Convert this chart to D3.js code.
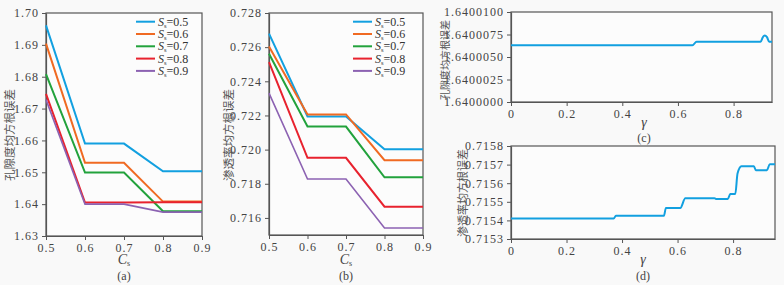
<!DOCTYPE html>
<html>
<head>
<meta charset="utf-8">
<script src="https://cdn.jsdelivr.net/npm/d3@7"></script>
<style>
  body { margin: 0; background: #f9f9f9; }
  svg { display: block; }
</style>
</head>
<body>
<div id="chart"></div>
<script>
// panel (a)/(b) x values
const cs = [0.5, 0.6, 0.7, 0.8, 0.9];
const ssLabels = ["0.5", "0.6", "0.7", "0.8", "0.9"];
const colors = ["#12a0e0", "#f06a22", "#22a23c", "#e8222e", "#8c62b2"];

// porosity RMSE vs Cs, one row per Ss
const poroA = [
  [1.6961, 1.6590, 1.6590, 1.6503, 1.6503],
  [1.6904, 1.6530, 1.6530, 1.6408, 1.6408],
  [1.6808, 1.6499, 1.6499, 1.6378, 1.6378],
  [1.6746, 1.6405, 1.6405, 1.6406, 1.6406],
  [1.6728, 1.6400, 1.6400, 1.6375, 1.6375]
];
// permeability RMSE vs Cs
const permB = [
  [0.72679, 0.72194, 0.72194, 0.72002, 0.72002],
  [0.72604, 0.72206, 0.72206, 0.71938, 0.71938],
  [0.72561, 0.72135, 0.72135, 0.71838, 0.71838],
  [0.72513, 0.71952, 0.71952, 0.71666, 0.71666],
  [0.72331, 0.71828, 0.71828, 0.71541, 0.71541]
];

// porosity RMSE vs gamma
const gammaC = [0, 0.652, 0.667, 0.897, 0.905, 0.912, 0.920, 0.928, 0.938];
const poroC = [1.6400063, 1.6400063, 1.6400067, 1.6400067, 1.6400072, 1.6400074, 1.6400072, 1.6400067, 1.6400067];

// permeability RMSE vs gamma
const gammaD = [0, 0.370, 0.378, 0.551, 0.558, 0.610, 0.628, 0.733, 0.740, 0.781, 0.790, 0.808, 0.816, 0.830, 0.875, 0.882, 0.922, 0.932, 0.951];
const permD = [0.71541, 0.71541, 0.715425, 0.715425, 0.715467, 0.715467, 0.715519, 0.715519, 0.715515, 0.715515, 0.715542, 0.715542, 0.715652, 0.715691, 0.715691, 0.71567, 0.71567, 0.715702, 0.715702];

const SERIF = "'Liberation Serif', 'DejaVu Serif', serif";
const CJK = "'Noto Sans CJK SC', sans-serif";
const W = 784, H = 285;
const svg = d3.select("#chart").append("svg").attr("width", W).attr("height", H);

function panel(box, xDom, yDom, xTicks, yTicks, xFmt, yFmt, ylab) {
  const x = d3.scaleLinear().domain(xDom).range([box.l, box.r]);
  const y = d3.scaleLinear().domain(yDom).range([box.b, box.t]);
  const g = svg.append("g");
  g.append("rect").attr("x", box.l).attr("y", box.t)
    .attr("width", box.r - box.l).attr("height", box.b - box.t)
    .attr("fill", "#fcfcfc").attr("stroke", "#555").attr("stroke-width", 1.2);
  const ax = g.append("g").attr("transform", `translate(0,${box.b})`)
    .call(d3.axisBottom(x).tickValues(xTicks).tickFormat(xFmt).tickSize(4).tickSizeOuter(0));
  const ay = g.append("g").attr("transform", `translate(${box.l},0)`)
    .call(d3.axisLeft(y).tickValues(yTicks).tickFormat(d3.format(yFmt)).tickSize(4).tickSizeOuter(0));
  [ax, ay].forEach(a => {
    a.attr("font-family", SERIF).attr("font-size", 12);
    a.select(".domain").attr("stroke", "#555").attr("stroke-width", 1.2);
    a.selectAll(".tick line").attr("stroke", "#555");
    a.selectAll(".tick text").attr("fill", "#444").style("letter-spacing", "1px");
  });
  g.append("text")
    .attr("transform", `translate(${ylab.x},${ylab.y}) rotate(-90)`)
    .attr("font-family", CJK).attr("font-size", ylab.fs).attr("fill", "#555")
    .attr("text-anchor", "middle").attr("dominant-baseline", "central").text(ylab.t);
  return { x, y, g };
}

function xlabel(g, cx, y1, y2, sym, sub, tag) {
  const t = g.append("text").attr("x", cx).attr("y", y1)
    .attr("font-family", SERIF).attr("fill", "#444")
    .attr("text-anchor", "middle").attr("font-size", 14);
  t.append("tspan").attr("font-style", "italic").text(sym);
  if (sub) t.append("tspan").attr("font-size", 8).attr("dy", 2).text(sub);
  g.append("text").attr("x", cx).attr("y", y2)
    .attr("font-family", SERIF).attr("fill", "#444")
    .attr("text-anchor", "middle").attr("font-size", 12).text(tag);
}

function legend(g, lx, ly) {
  ssLabels.forEach((s, i) => {
    const yy = ly + i * 12.3;
    g.append("line").attr("x1", lx).attr("x2", lx + 19).attr("y1", yy).attr("y2", yy)
      .attr("stroke", colors[i]).attr("stroke-width", 2);
    const t = g.append("text").attr("x", lx + 22).attr("y", yy + 4)
      .attr("font-family", SERIF).attr("fill", "#333").attr("font-size", 12);
    t.append("tspan").attr("font-style", "italic").text("S");
    t.append("tspan").attr("font-size", 6.5).attr("dy", 2).text("s");
    t.append("tspan").attr("dy", -2).text("=" + s);
  });
}

const line = (x, y) => d3.line().x(d => x(d[0])).y(d => y(d[1]));

// (a)
const A = panel({ l: 46, r: 202, t: 13, b: 236 }, [0.5, 0.9], [1.63, 1.70],
  cs, d3.range(7, -1, -1).map(i => 1.63 + i * 0.01), d3.format(".1f"), ".2f",
  { x: 9, y: 135, t: "孔隙度均方根误差", fs: 11.5 });
poroA.forEach((row, i) => {
  A.g.append("path").datum(cs.map((c, j) => [c, row[j]]))
    .attr("d", line(A.x, A.y)).attr("fill", "none")
    .attr("stroke", colors[i]).attr("stroke-width", i === 4 ? 1.6 : 2);
});
legend(A.g, 136, 21.7);
xlabel(A.g, 124, 264, 280, "C", "s", "(a)");

// (b)
const B = panel({ l: 269, r: 423, t: 13, b: 235 }, [0.5, 0.9], [0.715, 0.728],
  cs, d3.range(0, 7).map(i => 0.716 + i * 0.002), d3.format(".1f"), ".3f",
  { x: 228, y: 135, t: "渗透率均方根误差", fs: 11.5 });
permB.forEach((row, i) => {
  B.g.append("path").datum(cs.map((c, j) => [c, row[j]]))
    .attr("d", line(B.x, B.y)).attr("fill", "none")
    .attr("stroke", colors[i]).attr("stroke-width", i === 4 ? 1.6 : 2);
});
legend(B.g, 353, 21.7);
xlabel(B.g, 346, 264, 280, "C", "s", "(b)");

const gFmt = d => d === 0 ? "0" : d3.format(".1f")(d);

// (c)
const C = panel({ l: 511, r: 772, t: 12, b: 102 }, [0, gammaC[gammaC.length - 1]], [1.64, 1.64001],
  [0, 0.2, 0.4, 0.6, 0.8], d3.range(0, 5).map(i => 1.64 + i * 0.0000025), gFmt, ".7f",
  { x: 444, y: 60, t: "孔隙度均方根误差", fs: 10 });
C.g.append("path").datum(gammaC.map((g, i) => [g, poroC[i]]))
  .attr("d", line(C.x, C.y).curve(d3.curveMonotoneX)).attr("fill", "none")
  .attr("stroke", colors[0]).attr("stroke-width", 2);
xlabel(C.g, 644, 127, 142, "γ", null, "(c)");

// (d)
const D = panel({ l: 511, r: 775, t: 146, b: 239 }, [0, gammaD[gammaD.length - 1]], [0.7153, 0.7158],
  [0, 0.2, 0.4, 0.6, 0.8], d3.range(0, 6).map(i => 0.7153 + i * 0.0001), gFmt, ".4f",
  { x: 462, y: 193, t: "渗透率均方根误差", fs: 11 });
D.g.append("path").datum(gammaD.map((g, i) => [g, permD[i]]))
  .attr("d", line(D.x, D.y).curve(d3.curveMonotoneX)).attr("fill", "none")
  .attr("stroke", colors[0]).attr("stroke-width", 2);
xlabel(D.g, 643, 264, 280, "γ", null, "(d)");
</script>
</body>
</html>
